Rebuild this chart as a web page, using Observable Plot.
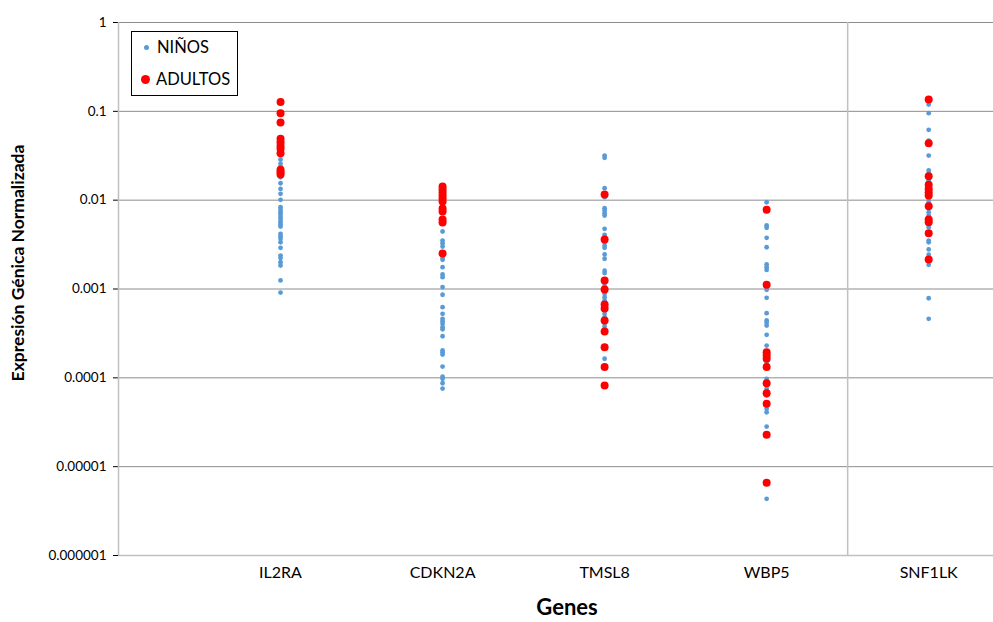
<!DOCTYPE html>
<html>
<head>
<meta charset="utf-8">
<script src="https://cdn.jsdelivr.net/npm/d3@7"></script>
<script src="https://cdn.jsdelivr.net/npm/@observablehq/plot@0.6"></script>
<style>
  html, body { margin: 0; padding: 0; background: #fff; }
  #chart { position: relative; width: 993px; height: 622px; font-family: Lato, "Noto Sans", sans-serif; }
  #legend {
    position: absolute; left: 131px; top: 31px; width: 105px; height: 63px;
    border: 1px solid #000; background: #fff; font-size: 16.5px; color: #000;
  }
  #legend .row { position: absolute; left: 0; display: flex; align-items: center; }
  #legend .dot { display: inline-block; border-radius: 50%; }
</style>
</head>
<body>
<div id="chart"></div>
<script>
// Genes on the x axis (positions 1..5)
const genes = ["IL2RA", "CDKN2A", "TMSL8", "WBP5", "SNF1LK"];

// Log-scale y ticks and their labels
const yTicks = [1e-6, 1e-5, 1e-4, 1e-3, 1e-2, 1e-1, 1];
const yTickLabels = ["0.000001", "0.00001", "0.0001", "0.001", "0.01", "0.1", "1"];

// Normalised expression, children (NIÑOS)
const il2raNinos = [0.0287, 0.0257, 0.0239, 0.0181, 0.0155, 0.0134, 0.0118, 0.0101, 0.00834, 0.00779, 0.00732, 0.0069, 0.00643, 0.00601, 0.00565, 0.00532, 0.00505, 0.00418, 0.00393, 0.00367, 0.00336, 0.00291, 0.00238, 0.00224, 0.002, 0.00184, 0.00125, 0.000912];
const cdkn2aNinos = [0.00732, 0.00444, 0.00351, 0.00328, 0.00301, 0.00224, 0.00213, 0.00176, 0.00146, 0.00136, 0.00105, 0.000861, 0.000624, 0.000526, 0.000462, 0.000434, 0.000405, 0.000371, 0.000352, 0.000294, 0.000203, 0.000194, 0.000183, 0.000134, 0.000103, 0.0000975, 0.0000869, 0.0000757];
const tmsl8Ninos = [0.0318, 0.030, 0.01364, 0.0108, 0.00812, 0.00765, 0.00713, 0.00671, 0.00476, 0.00407, 0.00383, 0.00336, 0.00309, 0.00291, 0.00245, 0.00219, 0.00161, 0.00151, 0.00109, 0.000883, 0.000809, 0.000742, 0.000681, 0.000573, 0.000526, 0.000481, 0.000409, 0.000378, 0.000164];
const wbp5Ninos = [0.00948, 0.00519, 0.00489, 0.00377, 0.00295, 0.00189, 0.00176, 0.00164, 0.00105, 0.00098, 0.000796, 0.000534, 0.000442, 0.000416, 0.000388, 0.000305, 0.000231, 0.000157, 0.000144, 0.0000975, 0.0000752, 0.0000632, 0.0000448, 0.000041, 0.0000283, 0.00000435];
const snf1lkNinos = [0.119, 0.0953, 0.062, 0.0469, 0.0318, 0.0216, 0.0201, 0.0166, 0.01035, 0.00948, 0.00732, 0.00672, 0.00496, 0.00351, 0.00336, 0.00279, 0.00243, 0.00219, 0.00187, 0.000787, 0.000462];

// Normalised expression, adults (ADULTOS)
const il2raAdultos = [0.127, 0.095, 0.0748, 0.049, 0.045, 0.041, 0.0379, 0.0338, 0.022, 0.0206, 0.0194];
const cdkn2aAdultos = [0.01425, 0.0132, 0.0122, 0.0113, 0.01044, 0.00966, 0.00806, 0.00745, 0.00605, 0.00561, 0.00251];
const tmsl8Adultos = [0.01158, 0.00361, 0.00125, 0.000987, 0.00067, 0.000603, 0.000442, 0.000332, 0.000221, 0.000132, 0.0000819];
const wbp5Adultos = [0.00778, 0.00112, 0.000194, 0.000178, 0.000164, 0.000132, 0.0000869, 0.0000671, 0.000051, 0.0000229, 0.00000658];
const snf1lkAdultos = [0.136, 0.0438, 0.0186, 0.0149, 0.0134, 0.0123, 0.0113, 0.00855, 0.00605, 0.00565, 0.00425, 0.00215];

const ninosByGene = [il2raNinos, cdkn2aNinos, tmsl8Ninos, wbp5Ninos, snf1lkNinos];
const adultosByGene = [il2raAdultos, cdkn2aAdultos, tmsl8Adultos, wbp5Adultos, snf1lkAdultos];

const toRows = (groups) => groups.flatMap((vals, i) => vals.map(v => ({pos: i + 1, gene: genes[i], value: v})));
const ninos = toRows(ninosByGene);
const adultos = toRows(adultosByGene);

const blue = "#5b9bd5";
const red = "#ff0000";
const gridColor = "#8c8c8c";
const axisColor = "#c0c0c0";

const chart = Plot.plot({
  width: 993,
  height: 622,
  marginLeft: 118,
  marginRight: 0,
  marginTop: 22,
  marginBottom: 67,
  style: {fontFamily: "Lato, 'Noto Sans', sans-serif", fontSize: "13.5px", color: "#000", background: "#fff"},
  x: {
    domain: [0, 5.4],
    ticks: [1, 2, 3, 4, 5],
    tickFormat: d => genes[d - 1],
    tickSize: 0,
    tickPadding: 11,
    label: null
  },
  y: {
    type: "log",
    domain: [1e-6, 1],
    ticks: yTicks,
    tickFormat: d => yTickLabels[yTicks.indexOf(d)],
    tickSize: 5,
    tickPadding: 7,
    label: null
  },
  marks: [
    // decade gridlines
    Plot.ruleY(yTicks.slice(1), {stroke: gridColor, strokeWidth: 1}),
    // separator before the last gene
    Plot.ruleX([4.5], {stroke: axisColor, strokeWidth: 1.5}),
    // axis lines
    Plot.ruleY([1e-6], {stroke: axisColor, strokeWidth: 1.5}),
    Plot.ruleX([0], {stroke: axisColor, strokeWidth: 1.5}),
    Plot.dot(ninos, {x: "pos", y: "value", r: 2.4, fill: blue, stroke: "none"}),
    Plot.dot(adultos, {x: "pos", y: "value", r: 4, fill: red, stroke: "none"}),
    // axis titles
    Plot.text(["Genes"], {frameAnchor: "bottom", dx: 11, dy: 59, fontSize: 22, fontWeight: "bold"}),
    Plot.text(["Expresión Génica Normalizada"], {frameAnchor: "left", textAnchor: "middle", dx: -100, dy: -26, rotate: -90, fontSize: 17.5, fontWeight: "bold"})
  ]
});

// larger x tick labels
d3.select(chart).selectAll("g[aria-label='x-axis tick label'] text").attr("font-size", 16);

const root = document.getElementById("chart");
root.appendChild(chart);

// legend box
const legend = document.createElement("div");
legend.id = "legend";
legend.innerHTML = `
  <div class="row" style="top:6px;left:11px;height:18px"><span class="dot" style="width:5px;height:5px;background:${blue};margin-right:8px;margin-left:1px"></span><span>NIÑOS</span></div>
  <div class="row" style="top:38px;left:9px;height:18px"><span class="dot" style="width:9px;height:9px;background:${red};margin-right:6px"></span><span>ADULTOS</span></div>`;
root.appendChild(legend);
</script>
</body>
</html>
